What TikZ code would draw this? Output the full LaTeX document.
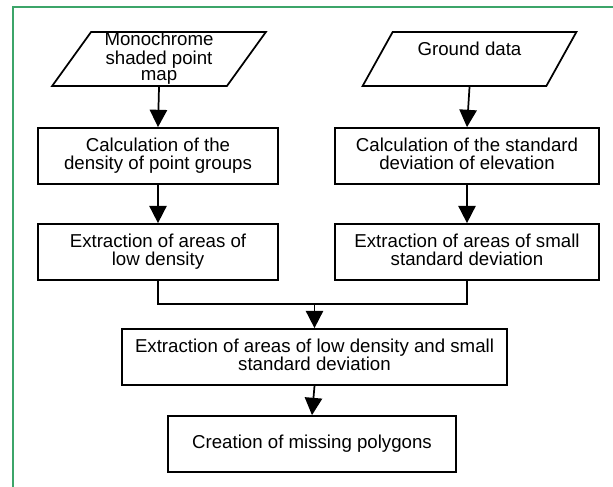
\documentclass[tikz,border=0pt]{standalone}
\usepackage{fontspec}
\setmainfont{Liberation Sans}
\usepackage{tikz}
\usetikzlibrary{arrows.meta,shapes.geometric}
\usepackage{xcolor}
\definecolor{framegreen}{RGB}{60,165,105}
\newcommand{\boxfont}{\fontsize{14pt}{12.2pt}\selectfont}
\tikzstyle{arrow} = [line width=1.3pt,-{Triangle[length=13pt,width=13pt]}]
\tikzstyle{line} = [line width=1.3pt]
\tikzstyle{process} = [rectangle, draw, line width=1.3pt, minimum height=42pt, text centered, font=\boxfont, inner sep=0pt]
\tikzstyle{dataio} = [trapezium, trapezium left angle=56, trapezium right angle=124, trapezium stretches=true, draw, line width=1.3pt, minimum width=160.5pt, minimum height=40.5pt, text centered, font=\boxfont, inner sep=0pt]

\begin{document}
\begin{tikzpicture}[x=0.75pt, y=-0.75pt]
\useasboundingbox (0,0) rectangle (613,486);
% Frame
\draw[framegreen, line width=1.5pt] (13,490) -- (13,7) -- (620,7);

% Inputs
\node[dataio] (mono) at (159,59) {
\begin{tabular}{c}
Monochrome\\
shaded point\\
map
\end{tabular}
};

\node[dataio] (ground) at (469.5,59) {
\begin{tabular}{c}
Ground data\\
~
\end{tabular}
};

% Left branch
\node[process, minimum width=180pt] (density) at (158,156) {
\begin{tabular}{c}
Calculation of the\\
density of point groups
\end{tabular}
};

\node[process, minimum width=180pt] (lowdens) at (158,252) {
\begin{tabular}{c}
Extraction of areas of\\
low density
\end{tabular}
};

% Right branch
\node[process, minimum width=198pt] (stddev) at (467,156) {
\begin{tabular}{c}
Calculation of the standard\\
deviation of elevation
\end{tabular}
};

\node[process, minimum width=198pt] (smallsd) at (467,252) {
\begin{tabular}{c}
Extraction of areas of small\\
standard deviation
\end{tabular}
};

% Combined steps
\node[process, minimum width=289pt] (combined) at (314.5,357) {
\begin{tabular}{c}
Extraction of areas of low density and small\\
standard deviation
\end{tabular}
};

\node[process, minimum width=216pt] (polygons) at (312,444) {Creation of missing polygons};

\coordinate (merge) at (314.5,304);

% Connectors
\draw[arrow] (mono.south) -- (density.north);
\draw[arrow] (density.south) -- (lowdens.north);
\draw[arrow] (ground.south) -- (stddev.north);
\draw[arrow] (stddev.south) -- (smallsd.north);
\draw[line] (lowdens.south) |- (merge) -| (smallsd.south);
\draw[arrow] (merge) -- (combined.north);
\draw[arrow] (combined.south) -- (polygons.north);
\end{tikzpicture}
\end{document}
